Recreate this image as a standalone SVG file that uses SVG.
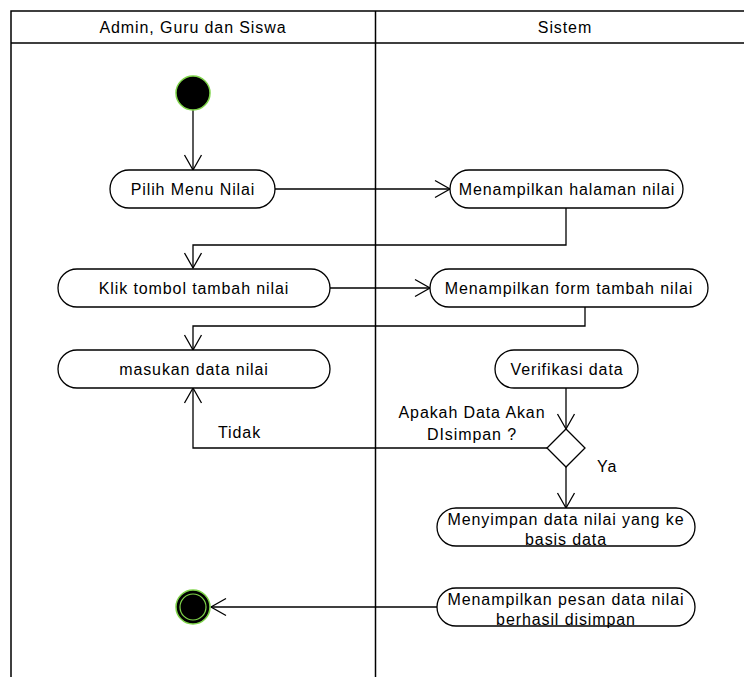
<svg xmlns="http://www.w3.org/2000/svg" width="744" height="677" viewBox="0 0 744 677">
<defs>
<marker id="open" viewBox="0 0 20 20" refX="16" refY="10" markerWidth="20" markerHeight="20" markerUnits="userSpaceOnUse" orient="auto">
<path d="M1,1.5 L16,10 L1,18.5" fill="none" stroke="#000" stroke-width="1.3"/>
</marker>
</defs>
<style>
text{font-family:"Liberation Sans",Arial,sans-serif;font-size:16px;letter-spacing:0.9px;fill:#000}
.act{fill:#fff;stroke:#000;stroke-width:1.3}
.lane{fill:none;stroke:#000;stroke-width:1.5}
.c{fill:none;stroke:#000;stroke-width:1.3}
.m{text-anchor:middle}
</style>
<rect width="744" height="677" fill="#fff"/>
<g id="swimlanes">
<path class="lane" d="M11,677 L11,11 L760,11 M11,43 L760,43 M375.5,11 L375.5,677"/>
<text class="m" x="193" y="33">Admin, Guru dan Siswa</text>
<text class="m" x="565" y="33">Sistem</text>
</g>
<g id="connectors">
<path class="c" d="M193,110 L193,170" marker-end="url(#open)"/>
<path class="c" d="M275,189 L450,189" marker-end="url(#open)"/>
<path class="c" d="M566,208 L566,245 L193,245 L193,268" marker-end="url(#open)"/>
<path class="c" d="M330,288 L430,288" marker-end="url(#open)"/>
<path class="c" d="M585,307 L585,326 L193,326 L193,350" marker-end="url(#open)"/>
<path class="c" d="M566,388 L566,429" marker-end="url(#open)"/>
<path class="c" d="M547,448 L193,448 L193,388" marker-end="url(#open)"/>
<path class="c" d="M566,467 L566,508" marker-end="url(#open)"/>
<path class="c" d="M437,607 L211,607" marker-end="url(#open)"/>
<text x="218" y="438">Tidak</text>
<text class="m" x="472" y="418">Apakah Data Akan</text>
<text class="m" x="472" y="440">DIsimpan ?</text>
<text x="597" y="472">Ya</text>
</g>
<g id="start">
<circle cx="193" cy="93" r="17" fill="#000" stroke="#7fd44a" stroke-width="1.5"/>
</g>
<g id="pilih-menu">
<rect class="act" x="110" y="170" width="165" height="38" rx="19"/>
<text class="m" x="193" y="195">Pilih Menu Nilai</text>
</g>
<g id="tampil-halaman">
<rect class="act" x="450" y="170" width="233" height="38" rx="19"/>
<text class="m" x="567" y="195">Menampilkan halaman nilai</text>
</g>
<g id="klik-tambah">
<rect class="act" x="58" y="269" width="272" height="38" rx="19"/>
<text class="m" x="194" y="294">Klik tombol tambah nilai</text>
</g>
<g id="tampil-form">
<rect class="act" x="430" y="269" width="278" height="38" rx="19"/>
<text class="m" x="569" y="294">Menampilkan form tambah nilai</text>
</g>
<g id="masukan-data">
<rect class="act" x="58" y="350" width="272" height="38" rx="19"/>
<text class="m" x="194" y="375">masukan data nilai</text>
</g>
<g id="verifikasi">
<rect class="act" x="495" y="350" width="143" height="38" rx="19"/>
<text class="m" x="567" y="375">Verifikasi data</text>
</g>
<g id="decision">
<path class="act" d="M566,429 L585,448 L566,467 L547,448 Z"/>
</g>
<g id="menyimpan">
<rect class="act" x="437" y="508" width="258" height="38" rx="19"/>
<text class="m" x="566" y="525">Menyimpan data nilai yang ke</text>
<text class="m" x="566" y="545">basis data</text>
</g>
<g id="tampil-pesan">
<rect class="act" x="437" y="588" width="258" height="38" rx="19"/>
<text class="m" x="566" y="605">Menampilkan pesan data nilai</text>
<text class="m" x="566" y="625">berhasil disimpan</text>
</g>
<g id="end">
<circle cx="193" cy="607" r="17" fill="#000" stroke="#7fd44a" stroke-width="1.5"/>
<circle cx="193" cy="607" r="13" fill="none" stroke="#7fd44a" stroke-width="1.2"/>
</g>
</svg>
